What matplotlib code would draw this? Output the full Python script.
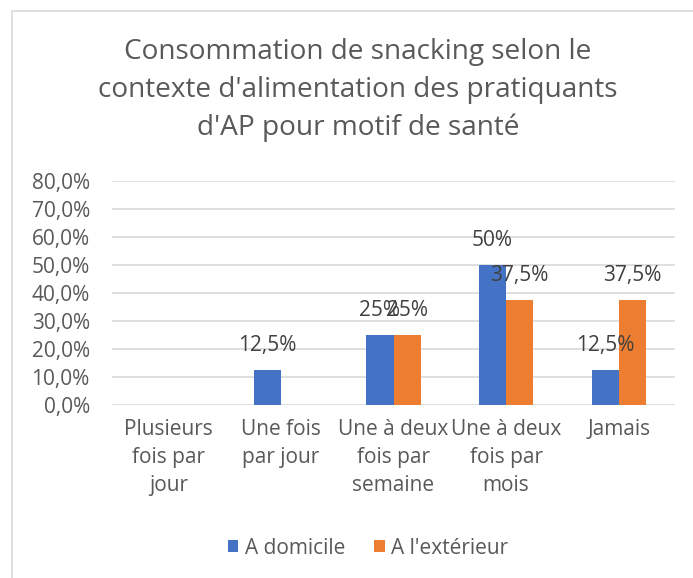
import matplotlib.pyplot as plt
import numpy as np
from matplotlib.patches import Rectangle

categories = ["Plusieurs\nfois par\njour", "Une fois\npar jour", "Une à deux\nfois par\nsemaine",
              "Une à deux\nfois par\nmois", "Jamais"]
domicile = [0.0, 0.125, 0.25, 0.50, 0.125]
exterieur = [0.0, 0.0, 0.25, 0.375, 0.375]
series_names = ["A domicile", "A l'extérieur"]
yticks = [0.0, 0.1, 0.2, 0.3, 0.4, 0.5, 0.6, 0.7, 0.8]

BLUE = "#4472C4"
ORANGE = "#ED7D31"
GREY = "#595959"

plt.rcParams["font.family"] = ["Open Sans", "DejaVu Sans"]

W, H = 693, 578
fig = plt.figure(figsize=(W / 100, H / 100), dpi=100)
ax = fig.add_axes([112 / W, 1 - 405 / H, (675 - 112) / W, (405 - 181) / H])

x = np.arange(len(categories))
bw = 0.24
b1 = ax.bar(x - bw / 2, domicile, bw, color=BLUE, label=series_names[0], zorder=3)
b2 = ax.bar(x + bw / 2, exterieur, bw, color=ORANGE, label=series_names[1], zorder=3)


def fmt(v):
    s = f"{v * 100:.1f}".rstrip("0").rstrip(".")
    return s.replace(".", ",") + "%"


for bars, vals in ((b1, domicile), (b2, exterieur)):
    for rect, v in zip(bars, vals):
        if v == 0:
            continue
        ax.annotate(fmt(v), (rect.get_x() + rect.get_width() / 2, v),
                    xytext=(0, 18), textcoords="offset points",
                    ha="center", va="center", fontsize=15, color="#404040", zorder=4)

ax.set_xlim(-0.5, len(categories) - 0.5)
ax.set_ylim(0, 0.8)
ax.set_yticks(yticks)
ax.set_yticklabels([f"{t * 100:.1f}%".replace(".", ",") for t in yticks])
ax.set_xticks(x)
ax.set_xticklabels(categories, linespacing=1.45)
ax.tick_params(axis="both", length=0, labelsize=15, colors=GREY)
ax.tick_params(axis="y", pad=16)
ax.tick_params(axis="x", pad=10)
ax.grid(axis="y", color="#D9D9D9", linewidth=1.2, zorder=0)
for s in ax.spines.values():
    s.set_visible(False)

fig.text(358 / W, 1 - 90 / H,
         "Consommation de snacking selon le\ncontexte d'alimentation des pratiquants\nd'AP pour motif de santé",
         ha="center", va="center", fontsize=20.2, color=GREY, linespacing=1.45)

fig.legend(loc="center", bbox_to_anchor=(368 / W, 1 - 548 / H), ncol=2, frameon=False,
           fontsize=15, labelcolor=GREY, handlelength=0.5, handleheight=0.5,
           handletextpad=0.3, columnspacing=1.4)

fig.patches.append(Rectangle((12 / W, -0.1), 1.2, 1.1 - 11 / H, transform=fig.transFigure,
                             fill=False, edgecolor="#D9D9D9", linewidth=1.2))

fig.savefig("out.png", dpi=100)
